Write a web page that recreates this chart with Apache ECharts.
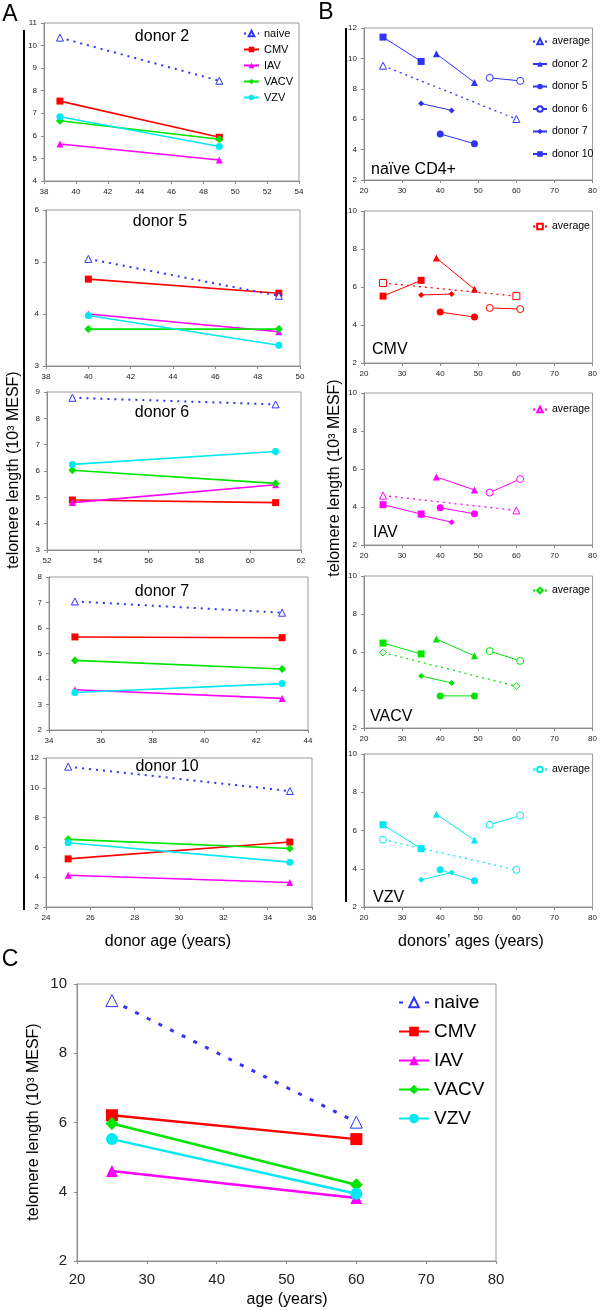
<!DOCTYPE html>
<html><head><meta charset="utf-8">
<script src="https://cdn.jsdelivr.net/npm/echarts@6/dist/echarts.min.js"></script>
<style>html,body{margin:0;padding:0;background:#fff}#c{width:600px;height:1310px}</style>
</head><body><div id="c"></div>
<script>
// ---------- data ----------
const virusNames = ['naive','CMV','IAV','VACV','VZV'];
const donorNames = ['donor 2','donor 5','donor 6','donor 7','donor 10'];
const donorAges = [[39,49],[40,49],[53,61],[35,43],[25,35]];
// panel A: per donor, values for [naive, CMV, IAV, VACV, VZV] at the two ages
const donor2  = [[10.35,8.44],[7.54,5.94],[5.64,4.93],[6.67,5.85],[6.85,5.53]];
const donor5  = [[5.06,4.35],[4.67,4.40],[4.00,3.66],[3.71,3.71],[3.97,3.40]];
const donor6  = [[8.78,8.53],[4.90,4.80],[4.80,5.48],[6.03,5.53],[6.25,6.74]];
const donor7  = [[7.04,6.60],[5.65,5.62],[3.58,3.24],[4.73,4.39],[3.47,3.82]];
const donor10 = [[11.42,9.78],[5.23,6.36],[4.13,3.64],[6.54,5.93],[6.31,5.01]];
// panel B: per virus, values for [donor 2, donor 5, donor 6, donor 7, donor 10]
const bNaive = [[10.3,8.42],[5.03,4.39],[8.72,8.52],[7.03,6.58],[11.4,9.8]];
const bCMV   = [[7.53,5.88],[4.68,4.42],[4.9,4.84],[5.58,5.63],[5.52,6.35]];
const bIAV   = [[5.58,4.9],[3.96,3.64],[4.76,5.47],[3.56,3.2],[4.12,3.63]];
const bVACV  = [[6.68,5.8],[3.69,3.69],[6.05,5.53],[4.74,4.37],[6.47,5.9]];
const bVZV   = [[6.85,5.5],[3.95,3.37],[6.3,6.78],[3.42,3.8],[6.3,5.05]];
// averages (panel B dotted lines and panel C)
const averageAges = [25,60];
const averages = [[9.52,6.01],[6.21,5.52],[4.6,3.82],[5.97,4.2],[5.52,3.94]];

// ---------- style ----------
const FONT = '"Liberation Sans", Arial, Helvetica, sans-serif';
const vColors = ['#2f34f5','#ff0000','#ff00ff','#00e400','#00e8f0'];
const vSymbols = ['triangle','rect','triangle','diamond','circle'];
const bDonorSymbols = ['triangle','circle','circle','diamond','rect'];
const bDonorOpen = [false,false,true,false,false];

const grids=[], xAxes=[], yAxes=[], series=[], legends=[], graphics=[];
function addGrid(box, xr, yr, fs, lm, bm){
  const i = grids.length;
  grids.push({left:box[0], top:box[1], width:box[2]-box[0], height:box[3]-box[1], show:true, borderColor:'#9a9a9a', borderWidth:1, backgroundColor:'rgba(0,0,0,0)'});
  const ax = (r,m)=>({type:'value', gridIndex:i, min:r[0], max:r[1], interval:r[2],
    axisLine:{show:true, onZero:false, lineStyle:{color:'#8a8a8a', width:1}},
    axisTick:{show:true, length:3, lineStyle:{color:'#8a8a8a'}},
    splitLine:{show:false},
    axisLabel:{fontSize:fs, color:'#222', margin:m, fontFamily:FONT}});
  xAxes.push(ax(xr,bm)); yAxes.push(ax(yr,lm));
  return i;
}
function lineSeries(gi, name, pts, color, symbol, size, open, dotted, lw){
  series.push({type:'line', name:name, xAxisIndex:gi, yAxisIndex:gi, data:pts,
    symbol:symbol, symbolSize:size, showSymbol:true, animation:false, z: dotted?3:2,
    lineStyle:{color:color, width:lw, type: dotted ? dotted : 'solid'},
    itemStyle: open ? {color:'#ffffff', borderColor:color, borderWidth:1} : {color:color, borderColor:color, borderWidth:0}
  });
}
function txt(x,y,text,fs,opts){
  graphics.push(Object.assign({type:'text', x:x, y:y, silent:true,
    style:{text:text, fontSize:fs, fontFamily:FONT, fill:'#000', textAlign:(opts&&opts.align)||'center', textVerticalAlign:'middle'}}, opts&&opts.extra||{}));
}

// ---------- panel A ----------
const aBoxes = [[44,23,299,181],[46,210,300,366],[47,392,301,550],[49,577,308,730],[46,758,312,907]];
const aX = [[38,54,2],[38,50,2],[52,62,2],[34,44,2],[24,36,2]];
const aY = [[4,11,1],[3,6,1],[3,9,1],[2,8,1],[2,12,2]];
const aData = [donor2, donor5, donor6, donor7, donor10];
const aTitles = [[162,37],[160,222],[162,413],[162,592],[167,767]];
aData.forEach((d,k)=>{
  const gi = addGrid(aBoxes[k], aX[k], aY[k], 8, 7, 7);
  d.forEach((vals,v)=>{
    const pts = donorAges[k].map((a,j)=>[a, vals[j]]);
    const nm = k===0 ? virusNames[v] : virusNames[v]+' ('+donorNames[k]+')';
    lineSeries(gi, nm, pts, vColors[v], vSymbols[v], v===3?8:7, v===0, v===0?[2,5]:null, v===0?2:1.6);
  });
  txt(aTitles[k][0], aTitles[k][1], donorNames[k], 16);
});
legends.push({orient:'vertical', left:243, top:28, padding:0, itemGap:5, itemWidth:15, itemHeight:7,
  data: virusNames.slice(), textStyle:{fontSize:11, fontFamily:FONT, color:'#000'}, selectedMode:false});

// ---------- panel B ----------
const bBoxes = [[364,28,594,180],[364,211,594,363],[364,393,594,545],[364,576,594,728],[364,754,594,907]];
const bY = [[2,12,2],[2,10,2],[2,10,2],[2,10,2],[2,10,2]];
const bData = [bNaive, bCMV, bIAV, bVACV, bVZV];
const bLabels = ['naïve CD4+','CMV','IAV','VACV','VZV'];
const bLabelPos = [[371,170],[372,350],[373,533],[370,717],[373,898]];
const bLegendTop = [36,221,404,585,764];
bData.forEach((d,v)=>{
  const gi = addGrid(bBoxes[v], [20,80,10], bY[v], 8, 7, 7);
  const pre = v===0 ? '' : virusNames[v]+' ';
  const avgName = pre+'average';
  lineSeries(gi, avgName, averageAges.map((a,j)=>[a, averages[v][j]]), vColors[v], vSymbols[v], 7, true, [2,4], 1.3);
  const names=[avgName];
  d.forEach((vals,k)=>{
    const nm = pre+donorNames[k];
    lineSeries(gi, nm, donorAges[k].map((a,j)=>[a, vals[j]]), vColors[v], bDonorSymbols[k], k===3?6:7, bDonorOpen[k], null, 1);
    names.push(nm);
  });
  txt(bLabelPos[v][0], bLabelPos[v][1], bLabels[v], 16, {align:'left'});
  legends.push({orient:'vertical', left:532, top:bLegendTop[v], padding:0, itemGap:11.5, itemWidth:14, itemHeight:7,
    data: v===0 ? names : [avgName], formatter:(n)=>n.replace(pre,''),
    textStyle:{fontSize:10.5, fontFamily:FONT, color:'#000'}, selectedMode:false});
});

// ---------- panel C ----------
const gc = addGrid([77,984,496,1261], [20,80,10], [2,10,2], 15, 10, 11);
const cNames=[];
averages.forEach((vals,v)=>{
  const nm = 'C '+virusNames[v];
  lineSeries(gc, nm, averageAges.map((a,j)=>[a, vals[j]]), vColors[v], vSymbols[v], v===3?13:12, v===0, v===0?[4,9]:null, v===0?3:2.5);
  cNames.push(nm);
});
legends.push({orient:'vertical', left:398, top:993, padding:0, itemGap:10, itemWidth:30, itemHeight:12,
  data:cNames, formatter:(n)=>n.slice(2), textStyle:{fontSize:19, fontFamily:FONT, color:'#000'}, selectedMode:false});

// ---------- decorations ----------
txt(10,15,'A',23); txt(326,13,'B',23); txt(10,960,'C',23);
graphics.push({type:'line', silent:true, shape:{x1:24,y1:30,x2:24,y2:910}, style:{stroke:'#000', lineWidth:2}});
graphics.push({type:'line', silent:true, shape:{x1:346,y1:28,x2:346,y2:902}, style:{stroke:'#000', lineWidth:2}});
txt(14,470,'telomere length (10³ MESF)',16,{extra:{rotation:Math.PI/2}});
txt(335,478,'telomere length (10³ MESF)',16,{extra:{rotation:Math.PI/2}});
txt(34,1122,'telomere length (10³ MESF)',16,{extra:{rotation:Math.PI/2}});
txt(168,942,'donor age (years)',16);
txt(471,942,'donors’ ages (years)',16);
txt(287,1300,'age (years)',16);

const chart = echarts.init(document.getElementById('c'));
chart.setOption({animation:false, backgroundColor:'#fff', grid:grids, xAxis:xAxes, yAxis:yAxes, series:series, legend:legends, graphic:graphics});
</script></body></html>
